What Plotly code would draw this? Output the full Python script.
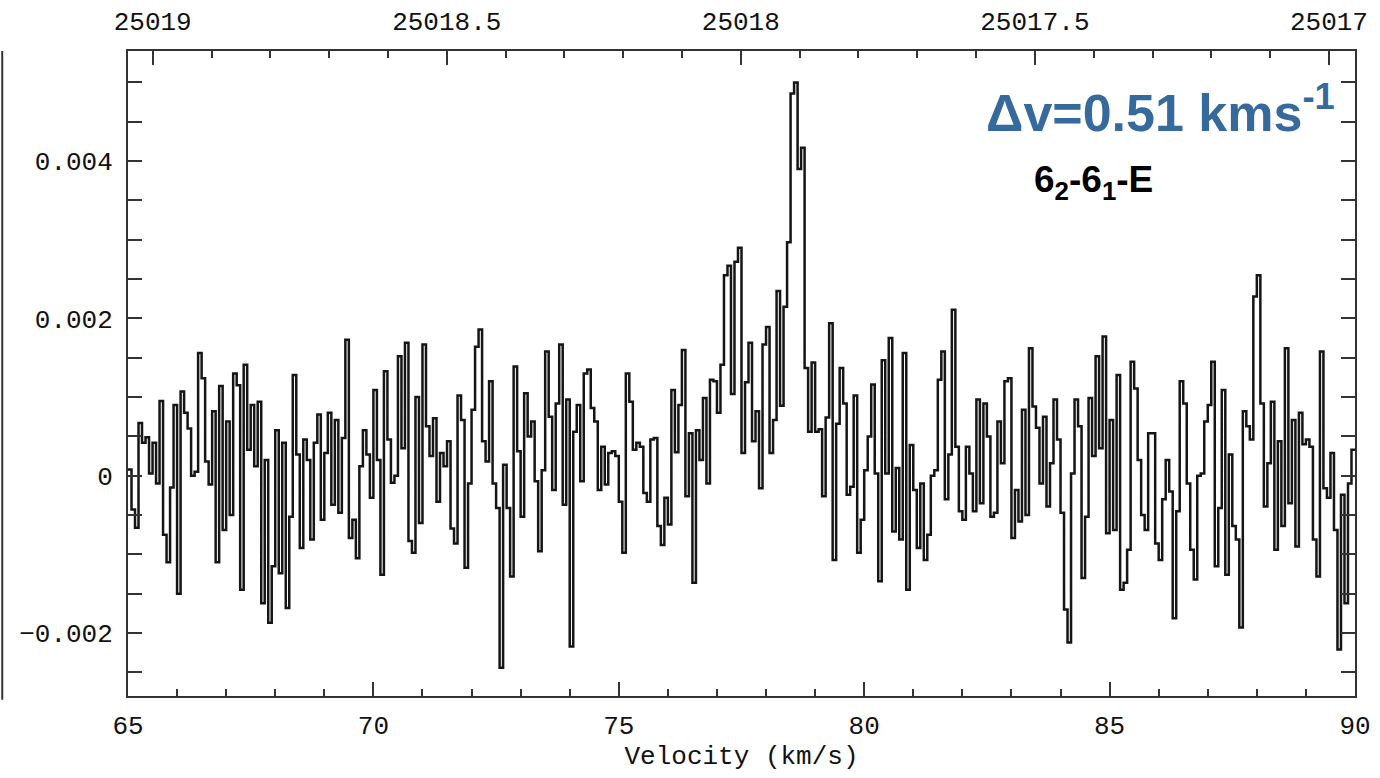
import plotly.graph_objects as go

# ---------------- data (intensity in units of 1e-3) ----------------
V_START, V_END = 65.0, 90.0          # km/s, velocity span of the spectrum

seg_65_69 = [0.08,-0.43,-0.66,0.67,0.42,0.49,0.03,0.42,-0.1,0.95,
             -0.75,-1.1,-0.15,0.9,-1.5,1.07,0.8,0.6,0.0,0.05,
             1.56,1.24,0.18,-0.11,0.82,-1.1,1.14,-0.69,0.69,-0.5,
             1.3,1.15,-1.45,1.41,0.33,0.9,0.12,0.94,-1.62,0.2,
             -1.87,-1.15,0.58,-1.24,0.42,-1.68,-0.52,1.28,0.27,-0.92,
             0.46,0.2,-0.81,0.42,0.78,-0.56,0.29,0.8]
seg_69_73 = [-0.37,0.71,-0.47,0.48,1.73,-0.79,-0.56,-1.05,0.12,0.58,
             0.27,-0.28,1.09,0.2,-1.26,1.33,0.46,-0.09,0.0,1.52,
             0.35,1.69,-0.83,-0.98,1.0,-0.6,1.67,0.63,0.25,0.73,
             -0.33,0.29,0.12,0.44,-0.67,-0.86,1.02,0.71,-1.17,-0.1,
             0.84,1.64,1.86,0.44,0.18,1.2,-0.1,-0.41,-2.44,0.14,
             -0.41,-1.28,1.39,0.31,-0.52,1.05,0.5,0.69]
seg_73_77 = [-0.07,-0.96,0.07,1.58,0.75,-0.18,0.92,1.67,-0.37,0.97,
             -2.17,0.56,0.9,-0.07,1.3,1.35,0.86,0.69,-0.18,0.37,
             -0.11,0.29,0.31,0.25,-0.33,-0.98,1.3,0.94,0.33,0.42,
             0.37,-0.22,-0.33,0.46,0.48,-0.64,-0.88,-0.28,-0.62,1.09,
             0.3,0.9,1.6,-0.26,0.54,-1.36,0.58,0.2,0.99,-0.1,
             1.22,1.2,0.8,1.41]
seg_77_80 = [2.55,2.67,1.04,2.72,2.9,0.29,1.19,1.69,0.44,0.82,
             -0.16,1.67,1.89,0.29,0.71,2.35,0.89,2.15,2.97,4.86,
             5.0,3.9,4.17,1.37,0.56,1.44,0.56,0.59,-0.26,0.74,
             1.94,-1.07,0.66,1.37,0.92,-0.24,-0.14,1.02]
seg_80_84 = [-0.98,-0.56,0.07,0.5,1.16,0.03,-1.34,1.47,0.03,1.75,
             -0.71,0.1,-0.81,1.56,-1.45,0.39,-0.18,-0.92,-0.1,-1.07,
             -0.75,0.0,0.07,1.22,1.58,-0.3,0.27,2.11,0.37,-0.45,
             -0.56,0.37,0.03,-0.45,0.97,-0.35,0.92,0.5,-0.52,-0.47,
             0.69,0.16,1.2,1.24,-0.79,-0.18,-0.58,0.84,-0.5,1.62,
             0.88,0.61,-0.1,0.75,-0.39,0.16,0.97,0.46]
seg_84_88 = [-0.47,-1.7,-2.12,0.03,0.97,0.63,-1.3,-0.52,0.99,0.25,
             1.52,0.35,1.77,-0.73,0.71,-0.69,1.28,-1.45,-1.36,-0.94,
             1.45,1.11,0.2,-0.5,-0.69,0.54,0.54,-0.86,-1.07,-0.3,
             0.2,-0.2,-1.81,-0.45,1.2,0.92,-0.1,-0.94,-1.32,0.0,
             0.03,0.69,0.9,1.45,-1.15,-0.41,1.09,-1.26,0.27,-0.64,
             -0.81,-1.93,0.82,0.63,0.46,2.28,2.55]
seg_88_90 = [0.92,-0.39,0.16,0.94,-0.94,0.44,-0.64,1.62,-0.35,0.71,
             -0.9,0.8,0.4,0.46,0.37,-0.81,-1.28,1.58,-0.16,-0.28,
             0.29,-0.69,-2.21,-0.24,-1.62,-0.1,0.33]

intensity_e3 = seg_65_69 + seg_69_73 + seg_73_77 + seg_77_80 + seg_80_84 + seg_84_88 + seg_88_90
n_chan = len(intensity_e3)
dv = (V_END - V_START) / n_chan
# channel left edges + closing edge for a histogram-style step line
vel_edges = [V_START + i * dv for i in range(n_chan + 1)]
intensity = [t * 1e-3 for t in intensity_e3] + [intensity_e3[-1] * 1e-3]

y_tickvals = [-0.002, 0, 0.002, 0.004]
y_ticktext = ["\u22120.002", "0", "0.002", "0.004"]
x_tickvals = [65, 70, 75, 80, 85, 90]

# top frequency axis (MHz): linear Doppler relation
F_REF, V_REF, KMS_PER_MHZ = 25019.0, 65.503, 11.983
freq_range = [F_REF - (V_START - V_REF) / KMS_PER_MHZ, F_REF - (V_END - V_REF) / KMS_PER_MHZ]
f_tickvals = [25019, 25018.5, 25018, 25017.5, 25017]
f_ticktext = ["25019", "25018.5", "25018", "25017.5", "25017"]

TICK_FONT = dict(family="Liberation Mono", size=26, color="#111")
AX = "#333333"

fig = go.Figure()
fig.add_trace(go.Scatter(x=vel_edges, y=intensity, mode="lines", line_shape="hv",
                         line=dict(color="#151515", width=2.5), showlegend=False))

fig.update_layout(
    width=1380, height=778,
    margin=dict(l=128, r=25, t=51, b=82, autoexpand=False),
    paper_bgcolor="white", plot_bgcolor="white",
    xaxis=dict(range=[V_START, V_END], tickvals=x_tickvals, ticks="inside", ticklen=14,
               tickwidth=1.5, tickcolor=AX, showline=True, linecolor=AX, linewidth=2,
               mirror=True, showgrid=False, zeroline=False, tickfont=TICK_FONT,
               ticklabelstandoff=5, automargin=False,
               minor=dict(dtick=1, ticks="inside", ticklen=7, tickcolor=AX, tickwidth=1.5),
               title=dict(text="Velocity (km/s)", font=TICK_FONT, standoff=2)),
    xaxis2=dict(overlaying="x", side="top", range=freq_range, tickvals=f_tickvals,
                ticktext=f_ticktext, ticks="inside", ticklen=14, tickwidth=1.5, tickcolor=AX,
                showgrid=False, zeroline=False, showline=False, tickfont=TICK_FONT,
                ticklabelstandoff=15, automargin=False,
                minor=dict(dtick=0.1, ticks="inside", ticklen=7, tickcolor=AX, tickwidth=1.5)),
    yaxis=dict(range=[-0.0028, 0.0054], tickvals=y_tickvals, ticktext=y_ticktext,
               ticks="inside", ticklen=14, tickwidth=1.5, tickcolor=AX, showline=True,
               linecolor=AX, linewidth=2, mirror="allticks", showgrid=False, zeroline=False,
               tickfont=TICK_FONT, ticklabelstandoff=8, automargin=False,
               minor=dict(dtick=0.0005, ticks="inside", ticklen=7, tickcolor=AX, tickwidth=1.5)),
)

# helper trace so the top axis is drawn
fig.add_trace(go.Scatter(x=[f_tickvals[0]], y=[None], xaxis="x2", yaxis="y",
                         mode="lines", showlegend=False, hoverinfo="skip"))

fig.add_annotation(xref="paper", yref="paper", x=0.698, y=0.964, xanchor="left", yanchor="top",
                   text="<b>\u0394v=0.51 kms<sup>-1</sup></b>", showarrow=False,
                   font=dict(family="Liberation Sans", size=52, color="#36699c"))
fig.add_annotation(xref="paper", yref="paper", x=0.7368, y=0.836, xanchor="left", yanchor="top",
                   text="<b>6<sub>2</sub>-6<sub>1</sub>-E</b>", showarrow=False,
                   font=dict(family="Liberation Sans", size=37, color="#000000"))

# remnant frame of the neighbouring panel at the far left
fig.add_shape(type="line", xref="paper", yref="paper", x0=-0.1025, x1=-0.1025, y0=-0.006, y1=1.0,
              line=dict(color=AX, width=2))

fig.write_html("out.html")
